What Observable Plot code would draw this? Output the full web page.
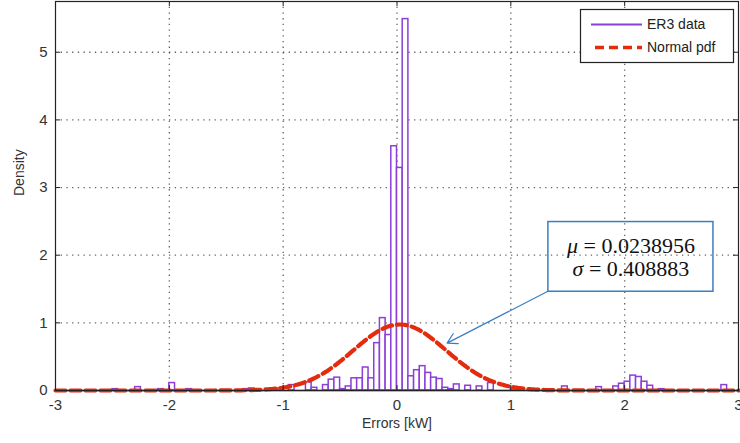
<!DOCTYPE html>
<html>
<head>
<meta charset="utf-8">
<script src="https://cdn.jsdelivr.net/npm/d3@7"></script>
<script src="https://cdn.jsdelivr.net/npm/@observablehq/plot@0.6"></script>
<style>
  html, body { margin: 0; padding: 0; background: #fff; }
</style>
</head>
<body>
<div id="chart"></div>
<script>
// Axis ticks
const xTicks = [-3, -2, -1, 0, 1, 2, 3];
const yTicks = [0, 1, 2, 3, 4, 5];

// Histogram of ER3 errors: lower bin edge (kW) and density, bin width 0.05 kW
const binWidth = 0.05;
const binLo = [
  -2.5, -2.3, -2.1, -2.0, -1.85, -1.35, -1.3, -1.05, -0.95, -0.8, -0.75, -0.65,
  -0.6, -0.55, -0.5, -0.45, -0.4, -0.35, -0.3, -0.25, -0.2, -0.15, -0.1, -0.05,
  0.0, 0.05, 0.1, 0.15, 0.2, 0.25, 0.3, 0.35, 0.4, 0.45, 0.5, 0.6, 0.7, 0.8,
  1.0, 1.45, 1.75, 1.9, 1.95, 2.0, 2.05, 2.1, 2.15, 2.2, 2.3, 2.85
];
const density = [
  0.02, 0.05, 0.02, 0.11, 0.02, 0.02, 0.03, 0.03, 0.08, 0.12, 0.04, 0.08,
  0.16, 0.19, 0.02, 0.06, 0.18, 0.18, 0.34, 0.18, 0.70, 1.07, 0.82, 3.61,
  3.29, 5.49, 0.21, 0.30, 0.36, 0.26, 0.19, 0.17, 0.04, 0.02, 0.09, 0.07, 0.06, 0.11,
  0.03, 0.06, 0.05, 0.06, 0.10, 0.13, 0.22, 0.20, 0.13, 0.07, 0.02, 0.08
];

// Fitted normal distribution parameters
const mu = 0.0238956;
const sigma = 0.408883;

const legendLabels = ["ER3 data", "Normal pdf"];
const statLabels = [`μ = ${mu}`, `σ = ${sigma}`];

const purple = "#8b3fd6";
const red = "#e52b0e";
const blue = "#3b7dc4";

const bins = binLo.map((lo, i) => ({x1: lo, x2: lo + binWidth, y: density[i]}));
const pdf = d3.range(-300, 301).map(k => {
  const x = k / 100;
  const z = (x - mu) / sigma;
  return {x, y: Math.exp(-0.5 * z * z) / (sigma * Math.sqrt(2 * Math.PI))};
});

const chart = Plot.plot({
  width: 740,
  height: 443,
  marginLeft: 55,
  marginRight: 2,
  marginTop: 1,
  marginBottom: 53,
  style: {
    fontFamily: "'Liberation Sans', Arial, sans-serif",
    fontSize: "15px",
    color: "#333",
    background: "white"
  },
  x: {domain: [-3, 3], ticks: xTicks, tickSize: 0, tickPadding: 9, tickFormat: d => String(d), label: null},
  y: {domain: [0, 5.75], ticks: yTicks, tickSize: 0, tickPadding: 8, tickFormat: d => String(d), label: null},
  marks: [
    // dotted grid
    Plot.ruleX(xTicks.slice(1, -1), {stroke: "#222", strokeOpacity: 0.7, strokeDasharray: "1.3,4.4", strokeWidth: 1.3}),
    Plot.ruleY(yTicks.slice(1), {stroke: "#222", strokeOpacity: 0.7, strokeDasharray: "1.3,4.4", strokeWidth: 1.3}),
    // histogram
    Plot.rectY(bins, {x1: "x1", x2: "x2", y: "y", fill: "white", stroke: purple, strokeWidth: 1.5}),
    Plot.ruleY([0], {stroke: "#2b1b6e", strokeWidth: 1.5}),
    // normal pdf
    Plot.line(pdf, {x: "x", y: "y", stroke: red, strokeWidth: 4.2, strokeDasharray: "10,5"}),
    // parameter callout
    Plot.rect([statLabels], {x1: 1.33, x2: 2.78, y1: 1.46, y2: 2.49, fill: "none", stroke: blue, strokeWidth: 1.5}),
    Plot.arrow([statLabels], {x1: 1.33, y1: 1.47, x2: 0.44, y2: 0.70, stroke: blue, strokeWidth: 1.2, headLength: 14, bend: 0}),
    Plot.text(statLabels, {
      x: 2.055, y: (d, i) => [2.14, 1.80][i], text: d => d,
      fontFamily: "'Liberation Serif', 'DejaVu Serif', serif", fontSize: 22, fill: "#111"
    }),
    // box and inward ticks
    Plot.frame({stroke: "#222", strokeWidth: 1.2}),
    Plot.ruleX(xTicks, {stroke: "#222", insetTop: 384}),
    Plot.ruleX(xTicks, {stroke: "#222", insetBottom: 384}),
    Plot.ruleY(yTicks, {stroke: "#222", insetRight: 678}),
    Plot.ruleY(yTicks, {stroke: "#222", insetLeft: 678}),
    // axis titles
    Plot.text(["Errors [kW]"], {frameAnchor: "bottom", dy: 37, fill: "#333", fontSize: 14}),
    Plot.text(["Density"], {frameAnchor: "left", dx: -36, rotate: -90, fill: "#333", fontSize: 14})
  ]
});

// Greek letters of the callout in math italic
d3.select(chart).selectAll("text").each(function () {
  const t = this.textContent;
  if (t.startsWith("μ") || t.startsWith("σ")) {
    const sel = d3.select(this);
    sel.text(null);
    sel.append("tspan").attr("font-style", "italic").text(t[0]);
    sel.append("tspan").text(t.slice(1));
  }
});

// Legend box in the upper right corner
const svg = d3.select(chart);
const lg = svg.append("g")
  .attr("font-family", "'Liberation Sans', Arial, sans-serif")
  .attr("font-size", 14)
  .attr("text-anchor", "start")
  .attr("fill", "#222");
lg.append("rect").attr("x", 580.5).attr("y", 9.5).attr("width", 153).attr("height", 53)
  .attr("fill", "white").attr("stroke", "#222").attr("stroke-width", 1.2);
lg.append("line").attr("x1", 591).attr("x2", 642).attr("y1", 24.5).attr("y2", 24.5)
  .attr("stroke", purple).attr("stroke-width", 2);
lg.append("line").attr("x1", 595).attr("x2", 642).attr("y1", 47.5).attr("y2", 47.5)
  .attr("stroke", red).attr("stroke-width", 3.5).attr("stroke-dasharray", "9,5");
lg.append("text").attr("x", 647).attr("y", 24.5).attr("dy", "0.35em").text(legendLabels[0]);
lg.append("text").attr("x", 647).attr("y", 47.5).attr("dy", "0.35em").text(legendLabels[1]);

document.getElementById("chart").append(chart);
</script>
</body>
</html>
